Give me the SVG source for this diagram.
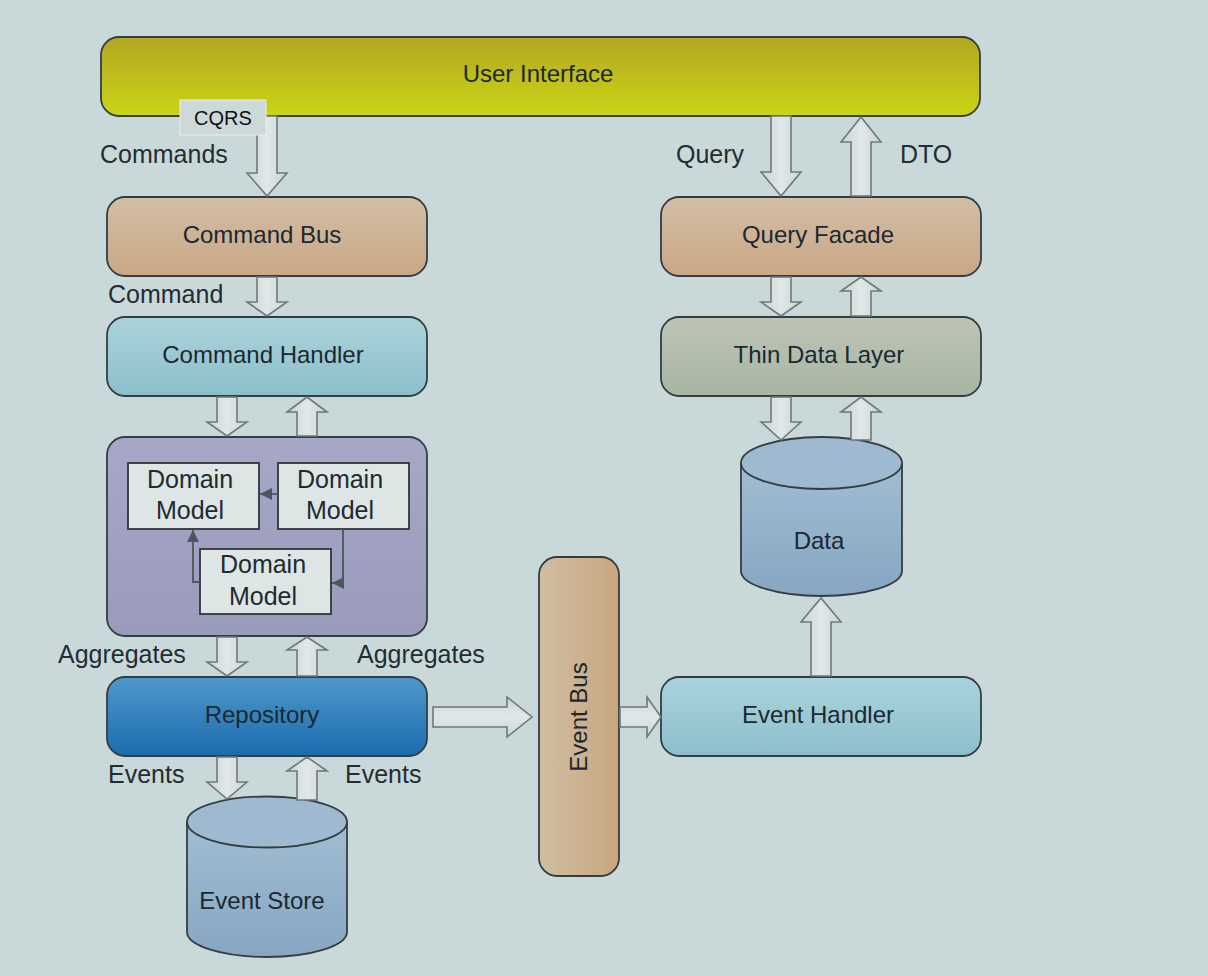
<svg xmlns="http://www.w3.org/2000/svg" width="1208" height="976" viewBox="0 0 1208 976">
<defs>
<linearGradient id="gUI" x1="0" y1="0" x2="0" y2="1"><stop offset="0" stop-color="#b3a624"/><stop offset="1" stop-color="#cad514"/></linearGradient>
<linearGradient id="gTan" x1="0" y1="0" x2="0" y2="1"><stop offset="0" stop-color="#d2bea6"/><stop offset="1" stop-color="#c9a784"/></linearGradient>
<linearGradient id="gTanH" x1="0" y1="0" x2="1" y2="0"><stop offset="0" stop-color="#d0bea2"/><stop offset="1" stop-color="#c8a67f"/></linearGradient>
<linearGradient id="gCyan" x1="0" y1="0" x2="0" y2="1"><stop offset="0" stop-color="#aad3db"/><stop offset="1" stop-color="#8cbfcb"/></linearGradient>
<linearGradient id="gGrey" x1="0" y1="0" x2="0" y2="1"><stop offset="0" stop-color="#bcc4b6"/><stop offset="1" stop-color="#a9b5a3"/></linearGradient>
<linearGradient id="gLav" x1="0" y1="0" x2="0" y2="1"><stop offset="0" stop-color="#a7a8c7"/><stop offset="1" stop-color="#9a9bbb"/></linearGradient>
<linearGradient id="gRepo" x1="0" y1="0" x2="0" y2="1"><stop offset="0" stop-color="#4e98cc"/><stop offset="1" stop-color="#1b6cad"/></linearGradient>
<linearGradient id="gCyl" x1="0" y1="0" x2="0" y2="1"><stop offset="0" stop-color="#a2bdd2"/><stop offset="1" stop-color="#86a6c2"/></linearGradient>
<linearGradient id="gArr" x1="0" y1="0" x2="1" y2="0"><stop offset="0" stop-color="#cbd6d7"/><stop offset="0.5" stop-color="#e0e7e7"/><stop offset="1" stop-color="#cbd6d7"/></linearGradient>
<linearGradient id="gArrH" x1="0" y1="0" x2="0" y2="1"><stop offset="0" stop-color="#cbd6d7"/><stop offset="0.5" stop-color="#e0e7e7"/><stop offset="1" stop-color="#cbd6d7"/></linearGradient>
<marker id="tri" viewBox="0 0 10 10" refX="10" refY="5" markerWidth="12" markerHeight="12" markerUnits="userSpaceOnUse" orient="auto"><path d="M0,0 L10,5 L0,10 z" fill="#4c565c"/></marker>
</defs>
<style>
.node{stroke:#333d42;stroke-width:1.8}
.t{font-family:"Liberation Sans",Arial,sans-serif;font-size:24px;fill:#1c2830;text-anchor:middle}
.lbl{font-family:"Liberation Sans",Arial,sans-serif;font-size:25px;fill:#232c33}
.dm{fill:#dde5e5;stroke:#2e363a;stroke-width:1.8}
.dmt{font-family:"Liberation Sans",Arial,sans-serif;font-size:25px;fill:#222a30;text-anchor:middle}
.arr{fill:url(#gArr);stroke:#6e787c;stroke-width:1.6;stroke-linejoin:miter}
.arrh{fill:url(#gArrH);stroke:#6e787c;stroke-width:1.6}
.ln{fill:none;stroke:#4c565c;stroke-width:1.8}
</style>
<rect width="1208" height="976" fill="#c9d9d9"/>

<g id="user-interface">
<rect class="node" x="101" y="37" width="879" height="79" rx="18" fill="url(#gUI)"/>
<text class="t" x="538" y="82">User Interface</text>
</g>

<g id="command-bus">
<rect class="node" x="107" y="197" width="320" height="79" rx="18" fill="url(#gTan)"/>
<text class="t" x="262" y="243">Command Bus</text>
</g>

<g id="command-handler">
<rect class="node" x="107" y="317" width="320" height="79" rx="18" fill="url(#gCyan)"/>
<text class="t" x="263" y="363">Command Handler</text>
</g>

<g id="domain">
<rect class="node" x="107" y="437" width="320" height="199" rx="18" fill="url(#gLav)"/>
<g id="domain-model-1">
<rect class="dm" x="128" y="463" width="131" height="66"/>
<text class="dmt" x="190" y="488">Domain</text>
<text class="dmt" x="190" y="519">Model</text>
</g>
<g id="domain-model-2">
<rect class="dm" x="278" y="463" width="131" height="66"/>
<text class="dmt" x="340" y="488">Domain</text>
<text class="dmt" x="340" y="519">Model</text>
</g>
<g id="domain-model-3">
<rect class="dm" x="200" y="549" width="131" height="65"/>
<text class="dmt" x="263" y="573">Domain</text>
<text class="dmt" x="263" y="605">Model</text>
</g>
</g>

<g id="repository">
<rect class="node" x="107" y="677" width="320" height="79" rx="18" fill="url(#gRepo)"/>
<text class="t" x="262" y="723">Repository</text>
</g>

<g id="event-store">
<path class="node" d="M187,822 L187,932 A80,25 0 0 0 347,932 L347,822" fill="url(#gCyl)"/>
<ellipse class="node" cx="267" cy="822" rx="80" ry="25.5" fill="#9fbad0"/>
<text class="t" x="262" y="909">Event Store</text>
</g>

<g id="event-bus">
<rect class="node" x="539" y="557" width="80" height="319" rx="18" fill="url(#gTanH)"/>
<text class="t" x="0" y="0" transform="translate(587,717) rotate(-90)">Event Bus</text>
</g>

<g id="event-handler">
<rect class="node" x="661" y="677" width="320" height="79" rx="18" fill="url(#gCyan)"/>
<text class="t" x="818" y="723">Event Handler</text>
</g>

<g id="query-facade">
<rect class="node" x="661" y="197" width="320" height="79" rx="18" fill="url(#gTan)"/>
<text class="t" x="818" y="243">Query Facade</text>
</g>

<g id="thin-data-layer">
<rect class="node" x="661" y="317" width="320" height="79" rx="18" fill="url(#gGrey)"/>
<text class="t" x="819" y="363">Thin Data Layer</text>
</g>

<g id="data">
<path class="node" d="M741,463 L741,571 A80.5,25 0 0 0 902,571 L902,463" fill="url(#gCyl)"/>
<ellipse class="node" cx="821.5" cy="463" rx="80.5" ry="26" fill="#9fbad0"/>
<text class="t" x="819" y="549">Data</text>
</g>

<g id="connectors">
<polygon class="arr" points="257,116 277,116 277,173 287,173 267,196 247,173 257,173"/>
<polygon class="arr" points="257,277 277,277 277,302 287,302 267,316 247,302 257,302"/>
<polygon class="arr" points="217,397 237,397 237,422 247,422 227,436 207,422 217,422"/>
<polygon class="arr" points="297,436 317,436 317,412 327,412 307,397 287,412 297,412"/>
<polygon class="arr" points="217,637 237,637 237,662 247,662 227,676 207,662 217,662"/>
<polygon class="arr" points="297,676 317,676 317,650 327,650 307,637 287,650 297,650"/>
<polygon class="arr" points="217,757 237,757 237,782 247,782 227,799 207,782 217,782"/>
<polygon class="arr" points="297,800 317,800 317,771 327,771 307,757 287,771 297,771"/>
<polygon class="arr" points="771,116 791,116 791,172 801,172 781,196 761,172 771,172"/>
<polygon class="arr" points="851,196 871,196 871,142 881,142 861,117 841,142 851,142"/>
<polygon class="arr" points="771,277 791,277 791,302 801,302 781,316 761,302 771,302"/>
<polygon class="arr" points="851,316 871,316 871,291 881,291 861,277 841,291 851,291"/>
<polygon class="arr" points="771,397 791,397 791,422 801,422 781,440 761,422 771,422"/>
<polygon class="arr" points="851,440 871,440 871,412 881,412 861,397 841,412 851,412"/>
<polygon class="arr" points="811,676 831,676 831,622 841,622 821,598 801,622 811,622"/>
<polygon class="arrh" points="433,707 507,707 507,697 532,717 507,737 507,727 433,727"/>
<polygon class="arrh" points="620,707 647,707 647,697 661,717 647,737 647,727 620,727"/>
<line class="ln" x1="278" y1="494" x2="260" y2="494" marker-end="url(#tri)"/>
<polyline class="ln" points="343,529 343,583 332,583" marker-end="url(#tri)"/>
<polyline class="ln" points="200,582 193,582 193,530" marker-end="url(#tri)"/>
</g>

<g id="labels">
<text class="lbl" x="100" y="163">Commands</text>
<text class="lbl" x="108" y="303">Command</text>
<text class="lbl" x="58" y="663">Aggregates</text>
<text class="lbl" x="357" y="663">Aggregates</text>
<text class="lbl" x="108" y="783">Events</text>
<text class="lbl" x="345" y="783">Events</text>
<text class="lbl" x="676" y="163">Query</text>
<text class="lbl" x="900" y="163">DTO</text>
</g>

<g id="cqrs-tooltip">
<rect x="180" y="100" width="86" height="35" fill="#cdd8d8" stroke="#e6eded" stroke-width="1"/>
<text x="223" y="125" font-family="Liberation Sans, Arial, sans-serif" font-size="20" fill="#111" text-anchor="middle">CQRS</text>
</g>
</svg>
